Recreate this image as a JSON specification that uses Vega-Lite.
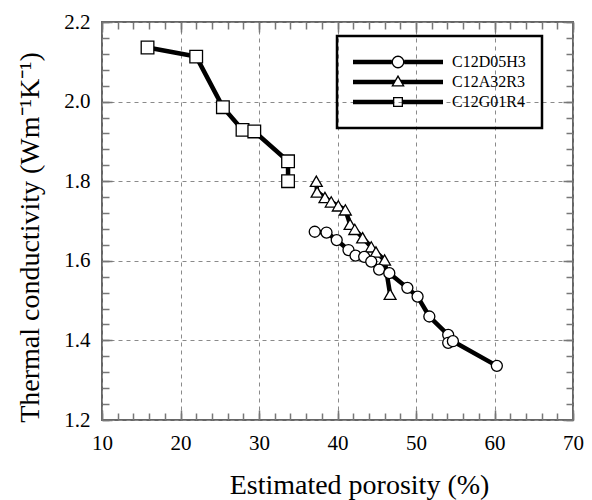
{
  "$schema": "https://vega.github.io/schema/vega-lite/v6.json",
  "width": 471,
  "height": 398,
  "autosize": "none",
  "padding": {"left": 102, "top": 22, "right": 19, "bottom": 80},
  "background": "white",
  "data": {
    "values": [
      {"series": "C12G01R4", "name": "C12G01R4", "ord": 1, "porosity": 15.8, "conductivity": 2.136},
      {"series": "C12G01R4", "name": "C12G01R4", "ord": 2, "porosity": 22.0, "conductivity": 2.113},
      {"series": "C12G01R4", "name": "C12G01R4", "ord": 3, "porosity": 25.4, "conductivity": 1.986},
      {"series": "C12G01R4", "name": "C12G01R4", "ord": 4, "porosity": 27.9, "conductivity": 1.929},
      {"series": "C12G01R4", "name": "C12G01R4", "ord": 5, "porosity": 29.4, "conductivity": 1.925},
      {"series": "C12G01R4", "name": "C12G01R4", "ord": 6, "porosity": 33.7, "conductivity": 1.850},
      {"series": "C12G01R4", "name": "C12G01R4", "ord": 7, "porosity": 33.7, "conductivity": 1.800},
      {"series": "C12A32R3", "name": "C12A32R3", "ord": 1, "porosity": 37.3, "conductivity": 1.800},
      {"series": "C12A32R3", "name": "C12A32R3", "ord": 2, "porosity": 37.4, "conductivity": 1.773},
      {"series": "C12A32R3", "name": "C12A32R3", "ord": 3, "porosity": 38.4, "conductivity": 1.759},
      {"series": "C12A32R3", "name": "C12A32R3", "ord": 4, "porosity": 39.2, "conductivity": 1.748},
      {"series": "C12A32R3", "name": "C12A32R3", "ord": 5, "porosity": 40.1, "conductivity": 1.738},
      {"series": "C12A32R3", "name": "C12A32R3", "ord": 6, "porosity": 41.0, "conductivity": 1.728},
      {"series": "C12A32R3", "name": "C12A32R3", "ord": 7, "porosity": 41.6, "conductivity": 1.692},
      {"series": "C12A32R3", "name": "C12A32R3", "ord": 8, "porosity": 42.2, "conductivity": 1.679},
      {"series": "C12A32R3", "name": "C12A32R3", "ord": 9, "porosity": 43.2, "conductivity": 1.658},
      {"series": "C12A32R3", "name": "C12A32R3", "ord": 10, "porosity": 44.3, "conductivity": 1.635},
      {"series": "C12A32R3", "name": "C12A32R3", "ord": 11, "porosity": 44.9, "conductivity": 1.622},
      {"series": "C12A32R3", "name": "C12A32R3", "ord": 12, "porosity": 46.0, "conductivity": 1.602},
      {"series": "C12A32R3", "name": "C12A32R3", "ord": 13, "porosity": 46.7, "conductivity": 1.516},
      {"series": "C12D05H3", "name": "C12D05H3", "ord": 1, "porosity": 37.1, "conductivity": 1.673},
      {"series": "C12D05H3", "name": "C12D05H3", "ord": 2, "porosity": 38.6, "conductivity": 1.671},
      {"series": "C12D05H3", "name": "C12D05H3", "ord": 3, "porosity": 39.9, "conductivity": 1.652},
      {"series": "C12D05H3", "name": "C12D05H3", "ord": 4, "porosity": 41.4, "conductivity": 1.627},
      {"series": "C12D05H3", "name": "C12D05H3", "ord": 5, "porosity": 42.3, "conductivity": 1.613},
      {"series": "C12D05H3", "name": "C12D05H3", "ord": 6, "porosity": 43.4, "conductivity": 1.610},
      {"series": "C12D05H3", "name": "C12D05H3", "ord": 7, "porosity": 44.3, "conductivity": 1.598},
      {"series": "C12D05H3", "name": "C12D05H3", "ord": 8, "porosity": 45.3, "conductivity": 1.578},
      {"series": "C12D05H3", "name": "C12D05H3", "ord": 9, "porosity": 46.6, "conductivity": 1.569},
      {"series": "C12D05H3", "name": "C12D05H3", "ord": 10, "porosity": 48.9, "conductivity": 1.532},
      {"series": "C12D05H3", "name": "C12D05H3", "ord": 11, "porosity": 50.2, "conductivity": 1.510},
      {"series": "C12D05H3", "name": "C12D05H3", "ord": 12, "porosity": 51.7, "conductivity": 1.460},
      {"series": "C12D05H3", "name": "C12D05H3", "ord": 13, "porosity": 54.1, "conductivity": 1.414},
      {"series": "C12D05H3", "name": "C12D05H3", "ord": 14, "porosity": 54.1, "conductivity": 1.394},
      {"series": "C12D05H3", "name": "C12D05H3", "ord": 15, "porosity": 54.7, "conductivity": 1.398},
      {"series": "C12D05H3", "name": "C12D05H3", "ord": 16, "porosity": 60.3, "conductivity": 1.336}
    ]
  },
  "layer": [
    {
      "mark": {"type": "line", "strokeWidth": 4.5, "strokeJoin": "miter"},
      "encoding": {
        "x": {
          "field": "porosity", "type": "quantitative",
          "scale": {"domain": [10, 70], "nice": false, "zero": false},
          "axis": {
            "orient": "bottom", "values": [10, 20, 30, 40, 50, 60, 70],
            "ticks": false, "domain": false, "grid": true,
            "gridColor": "#8a8a8a", "gridDash": [4, 4], "gridWidth": 1,
            "labelFont": "Liberation Serif", "labelFontSize": 21, "labelColor": "black",
            "labelBaseline": "alphabetic", "labelPadding": 29, "labelFlush": false,
            "title": "Estimated porosity (%)", "titleFont": "Liberation Serif",
            "titleFontSize": 28, "titleFontWeight": "normal", "titleColor": "black",
            "titleX": 257, "titleY": 73, "titleBaseline": "alphabetic", "titleAlign": "center"
          }
        },
        "y": {
          "field": "conductivity", "type": "quantitative",
          "scale": {"domain": [1.2, 2.2], "nice": false, "zero": false},
          "axis": {
            "orient": "left", "values": [1.2, 1.4, 1.6, 1.8, 2.0, 2.2], "format": ".1f",
            "ticks": false, "domain": false, "grid": true,
            "gridColor": "#8a8a8a", "gridDash": [4, 4], "gridWidth": 1,
            "labelFont": "Liberation Serif", "labelFontSize": 21, "labelColor": "black",
            "labelPadding": 12, "labelFlush": false,
            "title": "Thermal conductivity (Wm⁻¹K⁻¹)", "titleFont": "Liberation Serif",
            "titleFontSize": 28, "titleFontWeight": "normal", "titleColor": "black",
            "titleX": -64, "titleY": 215, "titleAngle": -90,
            "titleBaseline": "alphabetic", "titleAlign": "center"
          }
        },
        "color": {
          "field": "name", "type": "nominal",
          "sort": ["C12D05H3", "C12A32R3", "C12G01R4"],
          "scale": {"range": ["black", "black", "black"]},
          "legend": {
            "orient": "none", "legendX": 235, "legendY": 14, "title": null,
            "symbolSize": 8100, "symbolStrokeWidth": 0,
            "clipHeight": 20, "rowPadding": 0, "padding": 16, "labelOffset": 9,
            "labelFont": "Liberation Serif", "labelFontSize": 16, "labelColor": "black",
            "strokeColor": "black",
            "symbolOpacity": 1,
            "encode": {
              "legend": {"update": {"strokeWidth": {"value": 2.5}}},
              "symbols": {"update": {
                "shape": {"signal": "datum.value === 'C12D05H3' ? 'M-1,-0.05H-0.138V0.05H-1Z M0.138,-0.05H1V0.05H0.138Z M0.142,0L0.1312,0.0543L0.1004,0.1004L0.0543,0.1312L0,0.142L-0.0543,0.1312L-0.1004,0.1004L-0.1312,0.0543L-0.142,0L-0.1312,-0.0543L-0.1004,-0.1004L-0.0543,-0.1312L0,-0.142L0.0543,-0.1312L0.1004,-0.1004L0.1312,-0.0543Z M0.113,0L0.1044,-0.0432L0.0799,-0.0799L0.0432,-0.1044L0,-0.113L-0.0432,-0.1044L-0.0799,-0.0799L-0.1044,-0.0432L-0.113,0L-0.1044,0.0432L-0.0799,0.0799L-0.0432,0.1044L0,0.113L0.0432,0.1044L0.0799,0.0799L0.1044,0.0432Z' : datum.value === 'C12A32R3' ? 'M-1,-0.05H-0.0635L-0.121,0.05H-1Z M0.0635,-0.05H1V0.05H0.121Z M0,-0.16L0.15,0.1L-0.15,0.1Z M0,-0.102L-0.1,0.071L0.1,0.071Z' : 'M-1,-0.05H-0.111V0.05H-1Z M0.111,-0.05H1V0.05H0.111Z M-0.111,-0.111H0.111V0.111H-0.111Z M-0.082,-0.082V0.082H0.082V-0.082Z'"},
                "fill": {"value": "black"},
                "fillOpacity": {"value": 1},
                "stroke": {"value": "transparent"},
                "strokeWidth": {"value": 0},
                "size": {"value": 8100},
                "opacity": {"value": 1}
              }}
            }
          }
        },
        "detail": {"field": "series", "type": "nominal"},
        "order": {"field": "ord", "type": "quantitative"}
      }
    },
    {
      "mark": {"type": "point", "filled": false, "fill": "white", "fillOpacity": 1, "stroke": "black", "strokeWidth": 1.3, "opacity": 1},
      "encoding": {
        "x": {
          "field": "porosity", "type": "quantitative",
          "axis": {
            "orient": "bottom", "values": [10, 20, 30, 40, 50, 60, 70],
            "labels": false, "grid": false, "domain": false, "title": null,
            "ticks": true, "tickSize": -10, "tickColor": "#777", "tickWidth": 1.5
          }
        },
        "y": {
          "field": "conductivity", "type": "quantitative",
          "axis": {
            "orient": "left", "values": [1.2, 1.4, 1.6, 1.8, 2.0, 2.2],
            "labels": false, "grid": false, "domain": false, "title": null,
            "ticks": true, "tickSize": -10, "tickColor": "#777", "tickWidth": 1.5
          }
        },
        "shape": {
          "field": "series", "type": "nominal",
          "scale": {"domain": ["C12D05H3", "C12A32R3", "C12G01R4"], "range": ["circle", "triangle-up", "square"]},
          "legend": null
        },
        "size": {
          "field": "series", "type": "nominal",
          "sort": ["C12D05H3", "C12A32R3", "C12G01R4"],
          "scale": {"range": [121, 160, 100]},
          "legend": null
        }
      }
    },
    {
      "mark": {"type": "point", "opacity": 0},
      "encoding": {
        "x": {
          "field": "porosity", "type": "quantitative",
          "axis": {
            "orient": "bottom", "values": [10, 12, 14, 16, 18, 20, 22, 24, 26, 28, 30, 32, 34, 36, 38, 40, 42, 44, 46, 48, 50, 52, 54, 56, 58, 60, 62, 64, 66, 68, 70],
            "labels": false, "grid": false, "domain": false, "title": null,
            "ticks": true, "tickSize": -7, "tickColor": "#777", "tickWidth": 1.5
          }
        },
        "y": {
          "field": "conductivity", "type": "quantitative",
          "axis": {
            "orient": "left", "values": [1.2, 1.24, 1.28, 1.32, 1.36, 1.4, 1.44, 1.48, 1.52, 1.56, 1.6, 1.64, 1.68, 1.72, 1.76, 1.8, 1.84, 1.88, 1.92, 1.96, 2.0, 2.04, 2.08, 2.12, 2.16, 2.2],
            "labels": false, "grid": false, "domain": false, "title": null,
            "ticks": true, "tickSize": -7, "tickColor": "#777", "tickWidth": 1.5
          }
        }
      }
    },
    {
      "mark": {"type": "point", "opacity": 0},
      "encoding": {
        "x": {
          "field": "porosity", "type": "quantitative",
          "axis": {
            "orient": "top", "values": [10, 20, 30, 40, 50, 60, 70],
            "labels": false, "grid": false, "domain": false, "title": null,
            "ticks": true, "tickSize": -10, "tickColor": "#777", "tickWidth": 1.5
          }
        },
        "y": {
          "field": "conductivity", "type": "quantitative",
          "axis": {
            "orient": "right", "values": [1.2, 1.4, 1.6, 1.8, 2.0, 2.2],
            "labels": false, "grid": false, "domain": false, "title": null,
            "ticks": true, "tickSize": -10, "tickColor": "#777", "tickWidth": 1.5
          }
        }
      }
    },
    {
      "mark": {"type": "point", "opacity": 0},
      "encoding": {
        "x": {
          "field": "porosity", "type": "quantitative",
          "axis": {
            "orient": "top", "values": [10, 12, 14, 16, 18, 20, 22, 24, 26, 28, 30, 32, 34, 36, 38, 40, 42, 44, 46, 48, 50, 52, 54, 56, 58, 60, 62, 64, 66, 68, 70],
            "labels": false, "grid": false, "domain": false, "title": null,
            "ticks": true, "tickSize": -7, "tickColor": "#777", "tickWidth": 1.5
          }
        },
        "y": {
          "field": "conductivity", "type": "quantitative",
          "axis": {
            "orient": "right", "values": [1.2, 1.24, 1.28, 1.32, 1.36, 1.4, 1.44, 1.48, 1.52, 1.56, 1.6, 1.64, 1.68, 1.72, 1.76, 1.8, 1.84, 1.88, 1.92, 1.96, 2.0, 2.04, 2.08, 2.12, 2.16, 2.2],
            "labels": false, "grid": false, "domain": false, "title": null,
            "ticks": true, "tickSize": -7, "tickColor": "#777", "tickWidth": 1.5
          }
        }
      }
    }
  ],
  "resolve": {"axis": {"x": "independent", "y": "independent"}},
  "config": {
    "view": {"stroke": "#666", "strokeWidth": 2},
    "font": "Liberation Serif"
  }
}
